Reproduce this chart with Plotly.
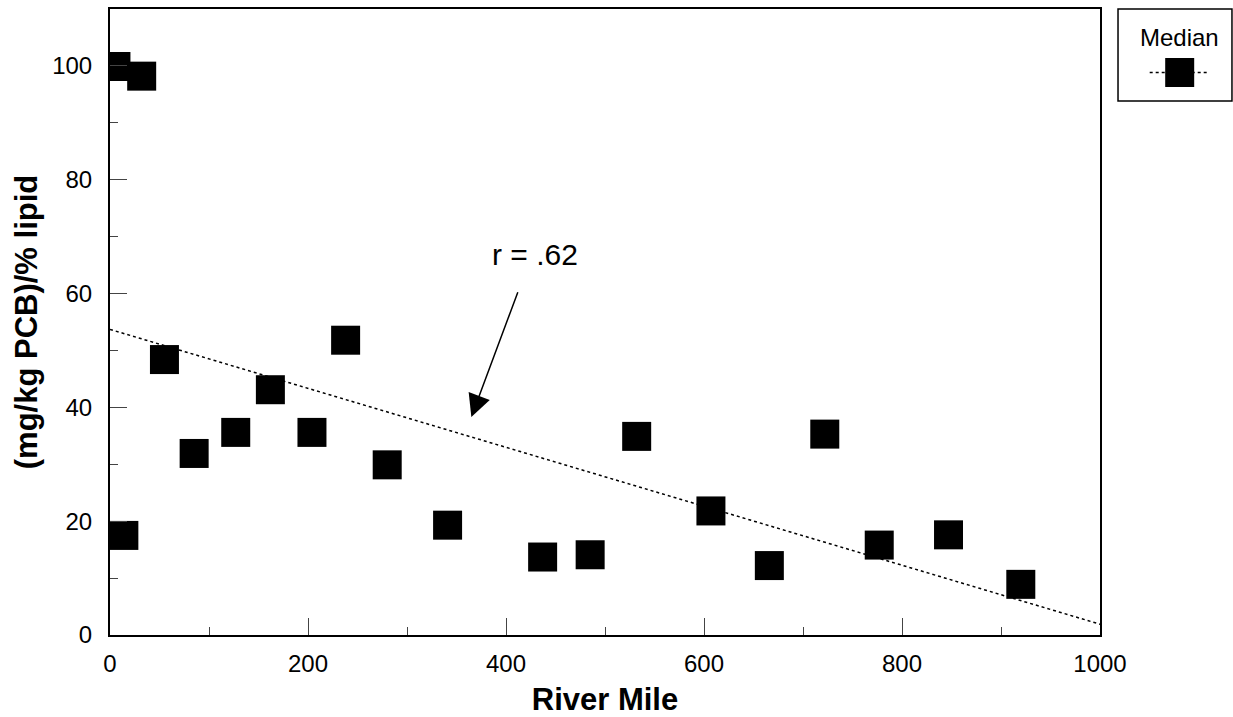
import plotly.graph_objects as go

# ---- data ----
river_mile = [6, 32, 14, 55, 85, 127, 162, 204, 238, 280, 341, 437, 485, 532, 607, 666, 722, 777, 847, 920]
median_pcb = [99.9, 98.2, 17.5, 48.4, 31.9, 35.6, 43.1, 35.6, 51.8, 29.9, 19.3, 13.7, 14.1, 34.9, 21.8, 12.2, 35.3, 15.8, 17.6, 8.9]

fit_x = [0, 1000]
fit_y = [53.7, 1.9]

r_label = "r = .62"
r_text_pos = (429, 66.8)
r_arrow_tail = (412.5, 60.5)
r_arrow_head = (365, 38.3)

x_ticks = [0, 200, 400, 600, 800, 1000]
y_ticks = [0, 20, 40, 60, 80, 100]

legend_title = "Median"

FONT = "Liberation Sans, Arial, sans-serif"
MARKER_SIZE = 29

fig = go.Figure()

# regression line
fig.add_trace(go.Scatter(
    x=fit_x, y=fit_y, mode="lines",
    line=dict(color="black", width=1.5, dash="dot"),
    showlegend=False, hoverinfo="skip",
))

# median points
fig.add_trace(go.Scatter(
    x=river_mile, y=median_pcb, mode="markers", name=legend_title,
    marker=dict(symbol="square", size=MARKER_SIZE, color="black"),
    showlegend=False,
))

fig.add_annotation(
    x=r_text_pos[0], y=r_text_pos[1], text=r_label, showarrow=False,
    xanchor="center", yanchor="middle",
    font=dict(family=FONT, size=30, color="black"),
)
fig.add_annotation(
    x=r_arrow_head[0], y=r_arrow_head[1],
    ax=r_arrow_tail[0], ay=r_arrow_tail[1],
    axref="x", ayref="y", xref="x", yref="y",
    text="", showarrow=True,
    arrowhead=2, arrowsize=3, arrowwidth=1.5, arrowcolor="black",
)

# ---- legend box drawn to match the reference (large key) ----
LEG_X0, LEG_X1 = 1.0182, 1.1333
LEG_Y0, LEG_Y1 = 0.853, 1.0
KEY_X, KEY_Y = 1.0805, 0.8986
fig.add_shape(type="rect", xref="paper", yref="paper",
              x0=LEG_X0, x1=LEG_X1, y0=LEG_Y0, y1=LEG_Y1,
              line=dict(color="black", width=1.5), fillcolor="white", layer="below")
fig.add_annotation(xref="paper", yref="paper", x=KEY_X, y=0.9537,
                   xanchor="center", yanchor="middle",
                   text=legend_title, showarrow=False,
                   font=dict(family=FONT, size=24, color="black"))
fig.add_shape(type="line", xref="paper", yref="paper",
              xsizemode="pixel", xanchor=KEY_X, x0=-30, x1=30,
              y0=KEY_Y, y1=KEY_Y,
              line=dict(color="black", width=1.5, dash="dot"), layer="above")
fig.add_shape(type="rect", xref="paper", yref="paper",
              xsizemode="pixel", ysizemode="pixel",
              xanchor=KEY_X, yanchor=KEY_Y,
              x0=-MARKER_SIZE / 2, x1=MARKER_SIZE / 2,
              y0=-MARKER_SIZE / 2, y1=MARKER_SIZE / 2,
              line=dict(width=0), fillcolor="black", layer="above")

axis_common = dict(
    showgrid=False, zeroline=False,
    showline=True, linecolor="black", linewidth=2, mirror=True,
    ticks="inside", ticklen=17, tickwidth=1, tickcolor="#444",
    tickfont=dict(family=FONT, size=24, color="black"),
)

fig.update_xaxes(
    **axis_common,
    range=[0, 1000], tickvals=x_ticks,
    minor=dict(dtick=100, ticks="inside", ticklen=8, tickwidth=1, tickcolor="#444", showgrid=False),
    title=dict(text="<b>River Mile</b>", font=dict(family=FONT, size=31, color="black"), standoff=19),
    ticklabelstandoff=6,
)
fig.update_yaxes(
    **axis_common,
    range=[0, 110], tickvals=y_ticks,
    minor=dict(dtick=10, ticks="inside", ticklen=8, tickwidth=1, tickcolor="#444", showgrid=False),
    title=dict(text="<b>(mg/kg PCB)/% lipid</b>", font=dict(family=FONT, size=31, color="black"), standoff=5),
    ticklabelstandoff=11,
)

fig.update_layout(
    width=1233, height=717,
    margin=dict(l=110, r=133, t=9, b=82, autoexpand=False),
    paper_bgcolor="white", plot_bgcolor="white",
    font=dict(family=FONT, color="black"),
    showlegend=False,
)

fig.write_html(
    "out.html",
    config={"displayModeBar": False},
    post_script="document.body.style.margin='0px';document.body.style.overflow='hidden';",
)
